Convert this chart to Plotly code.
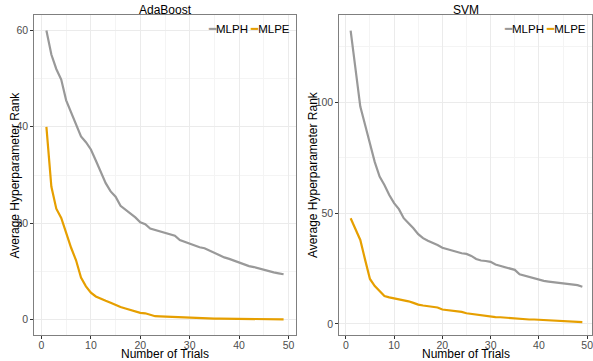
import plotly.graph_objects as go

trials = list(range(1, 50))

ada_mlph = [60, 55, 52, 49.8, 45.5, 43, 40.6, 38, 36.8, 35.3,
            33, 30.5, 28.3, 26.6, 25.5, 23.6, 22.8, 22.1, 21.2, 20.2,
            19.8, 18.9, 18.6, 18.4, 18.1, 17.8, 17.4, 16.5, 16.1, 15.7,
            15.3, 15.0, 14.8, 14.3, 13.9, 13.4, 12.9, 12.6, 12.2, 11.8,
            11.4, 11.1, 10.9, 10.6, 10.3, 10.0, 9.8, 9.6, 9.4]
ada_mlpe = [40, 27.6, 23, 21.1, 18, 14.9, 12.3, 8.7, 6.9, 5.6,
            4.8, 4.3, 3.9, 3.5, 3.0, 2.6, 2.3, 2.0, 1.8, 1.4,
            1.3, 1.0, 0.7, 0.65, 0.6, 0.5, 0.45, 0.4, 0.35, 0.3,
            0.3, 0.25, 0.25, 0.2, 0.2, 0.2, 0.2, 0.18, 0.17, 0.15,
            0.14, 0.13, 0.12, 0.11, 0.1, 0.09, 0.08, 0.06, 0.05]
svm_mlph = [132.3, 116.1, 98.1, 89.8, 81.5, 73, 66.5, 62.7, 58.2, 54.5,
            51.8, 47.7, 45.4, 43.2, 40.5, 38.7, 37.5, 36.7, 35.6, 34.4,
            33.7, 33.1, 32.3, 31.9, 31.6, 30.7, 29.3, 28.6, 28.4, 28.0,
            26.8, 26.2, 25.6, 24.7, 24.4, 22.4, 21.8, 21.4, 20.5, 19.9,
            19.4, 19.1, 18.8, 18.5, 18.2, 18.0, 17.9, 17.5, 16.8]
svm_mlpe = [47.7, 42.4, 37.9, 28.9, 20.3, 17.1, 15.0, 12.6, 12.0, 11.6,
            11.1, 10.7, 10.2, 9.5, 8.7, 8.3, 8.0, 7.7, 7.4, 6.5,
            6.2, 6.0, 5.8, 5.4, 4.8, 4.5, 4.1, 4.0, 3.7, 3.3,
            3.1, 3.0, 2.8, 2.6, 2.5, 2.3, 2.2, 2.0, 2.0, 1.9,
            1.8, 1.7, 1.6, 1.5, 1.4, 1.3, 1.2, 1.0, 0.8]

panel_titles = ["AdaBoost", "SVM"]
series_names = ["MLPH", "MLPE"]
x_ticks = [0, 10, 20, 30, 40, 50]
ada_yticks = [0, 20, 40, 60]
svm_yticks = [0, 50, 100]

GRAY = "#999999"
ORANGE = "#E69F00"
FONT = "Liberation Sans, Arial, sans-serif"
W, H = 593, 361
L, R, T, B = 34, 1, 15, 26
PW, PH = W - L - R, H - T - B


def px(x):
    return (x - L) / PW


def py(y):
    return (H - B - y) / PH


fig = go.Figure()
for x_ax, y_ax, s1, s2 in [("x", "y", ada_mlph, ada_mlpe), ("x2", "y2", svm_mlph, svm_mlpe)]:
    fig.add_trace(go.Scatter(x=trials, y=s1, mode="lines", name=series_names[0],
                             line=dict(color=GRAY, width=2.2), xaxis=x_ax, yaxis=y_ax, showlegend=False))
    fig.add_trace(go.Scatter(x=trials, y=s2, mode="lines", name=series_names[1],
                             line=dict(color=ORANGE, width=2.2), xaxis=x_ax, yaxis=y_ax, showlegend=False))

xd1 = [px(34.3), px(295.7)]
xd2 = [px(339.3), px(592)]
ydom = [0, 1]

common_axis = dict(showline=True, mirror=True, linecolor="#7f7f7f", linewidth=1,
                   showgrid=True, gridcolor="#ebebeb", gridwidth=1.1,
                   ticks="outside", ticklen=3, tickcolor="#333333", tickwidth=1,
                   tickfont=dict(family=FONT, size=10.5, color="#4d4d4d"), zeroline=False,
                   automargin=False, ticklabeloverflow="allow")

fig.update_layout(
    width=W, height=H, margin=dict(l=L, r=R, t=T, b=B),
    plot_bgcolor="white", paper_bgcolor="white",
    xaxis=dict(domain=xd1, range=[-1.45, 51.45], tickvals=x_ticks, anchor="y",
               ticklabelstandoff=-3,
               minor=dict(dtick=5, tick0=0, showgrid=True, gridcolor="#f4f4f4", gridwidth=0.6),
               **common_axis),
    yaxis=dict(domain=ydom, range=[-3.2, 63.2], tickvals=ada_yticks, anchor="x",
               minor=dict(dtick=10, tick0=0, showgrid=True, gridcolor="#f4f4f4", gridwidth=0.6),
               **common_axis),
    xaxis2=dict(domain=xd2, range=[-1.35, 51.0], tickvals=x_ticks, anchor="y2",
                ticklabelstandoff=-3,
                minor=dict(dtick=5, tick0=0, showgrid=True, gridcolor="#f4f4f4", gridwidth=0.6),
                **common_axis),
    yaxis2=dict(domain=ydom, range=[-5.0, 139.4], tickvals=svm_yticks, anchor="x2",
                minor=dict(dtick=25, tick0=0, showgrid=True, gridcolor="#f4f4f4", gridwidth=0.6),
                **common_axis),
)

ann = []
for i, xd in enumerate([xd1, xd2]):
    cx = (xd[0] + xd[1]) / 2
    ann.append(dict(text=panel_titles[i], x=cx, y=py(10), xref="paper", yref="paper",
                    showarrow=False, xanchor="center", yanchor="middle",
                    font=dict(family=FONT, size=12, color="black")))
    ann.append(dict(text="Number of Trials", x=cx, y=py(353.5), xref="paper", yref="paper",
                    showarrow=False, xanchor="center", yanchor="middle",
                    font=dict(family=FONT, size=12, color="black")))
    legend_text = (f"<span style='color:{GRAY}'>━</span>{series_names[0]}"
                   f"<span style='color:{ORANGE}'> ━</span>{series_names[1]}")
    ann.append(dict(text=legend_text, x=xd[1] - 4 / PW, y=py(29.5), xref="paper", yref="paper",
                    showarrow=False, xanchor="right", yanchor="middle",
                    font=dict(family=FONT, size=11.5, color="black")))

for xpx in [14.5, 313]:
    ann.append(dict(text="Average Hyperparameter Rank", x=px(xpx), y=py(175),
                    xref="paper", yref="paper", showarrow=False, textangle=-90,
                    xanchor="center", yanchor="middle",
                    font=dict(family=FONT, size=12, color="black")))
fig.update_layout(annotations=ann)

fig.write_html("out.html", config={"displayModeBar": False},
               post_script="document.body.style.margin='0';document.body.style.padding='0';")
